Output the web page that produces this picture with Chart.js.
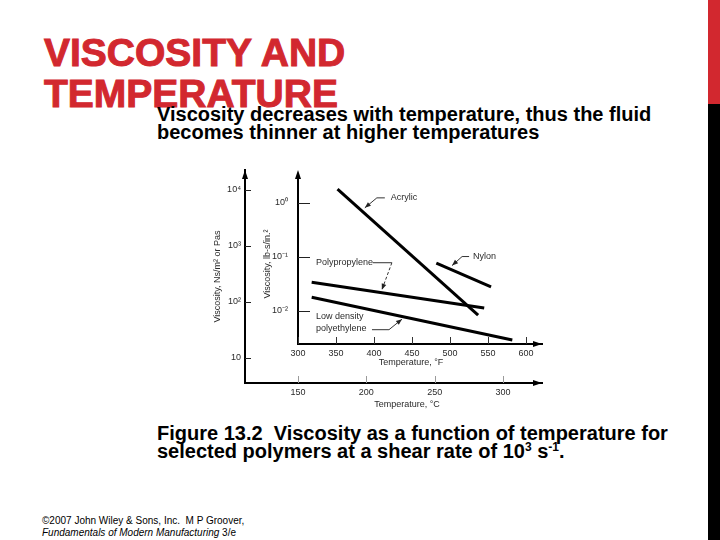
<!DOCTYPE html>
<html>
<head>
<meta charset="utf-8">
<script src="https://cdn.jsdelivr.net/npm/chart.js@4.4.1/dist/chart.umd.min.js"></script>
<style>
html,body{margin:0;padding:0;background:#fff;}
body{width:720px;height:540px;position:relative;overflow:hidden;font-family:"Liberation Sans",Arial,sans-serif;}
#bar-red{position:absolute;left:708px;top:0;width:12px;height:104px;background:#d2282f;}
#bar-black{position:absolute;left:708px;top:104px;width:12px;height:436px;background:#000;}
#title{position:absolute;left:44px;top:32px;margin:0;font-size:39px;line-height:41px;font-weight:bold;color:#d2282f;white-space:nowrap;-webkit-text-stroke:1px #d2282f;}
#subtitle{position:absolute;left:157px;top:105px;margin:0;font-size:20px;line-height:18px;font-weight:bold;color:#000;white-space:nowrap;}
#caption{position:absolute;left:157px;top:424px;margin:0;font-size:20px;line-height:18px;font-weight:bold;color:#000;white-space:pre;}
#caption sup{font-size:12px;line-height:0;vertical-align:7px;}
#footer{position:absolute;left:42px;top:515px;font-size:10px;line-height:12px;color:#000;white-space:pre;}
canvas{position:absolute;}
#outer{left:200px;top:160px;}
#inner{left:255px;top:160px;}
</style>
</head>
<body>
<div id="bar-red"></div>
<div id="bar-black"></div>
<h1 id="title">VISCOSITY AND<br>TEMPERATURE</h1>
<p id="subtitle">Viscosity decreases with temperature, thus the fluid<br>becomes thinner at higher temperatures</p>
<canvas id="outer" width="360" height="260"></canvas>
<canvas id="inner" width="305" height="220"></canvas>
<p id="caption">Figure 13.2  Viscosity as a function of temperature for
selected polymers at a shear rate of 10<sup>3</sup> s<sup>-1</sup>.</p>
<div id="footer">©2007 John Wiley &amp; Sons, Inc.  M P Groover,
<i>Fundamentals of Modern Manufacturing</i> 3/e</div>

<script>
// ---- tick values / labels ----
const tempC_ticks = [150, 200, 250, 300];
const viscPa_ticks = [10, 100, 1000, 10000];
const viscPa_labels = ['10', '10²', '10³', '10⁴'];
const tempF_ticks = [300, 350, 400, 450, 500, 550, 600];
const viscLb_ticks = [0.01, 0.1, 1];
const viscLb_labels = ['10⁻²', '10⁻¹', '10⁰'];

// ---- series (temperature °F, viscosity lb-s/in²) ----
const seriesNames = ['Acrylic', 'Nylon', 'Polypropylene', 'Low density polyethylene'];
const acrylicF = [352, 537];
const acrylicVisc = [1.8, 0.0084];
const nylonF = [482, 554];
const nylonVisc = [0.077, 0.028];
const ppF = [318, 545];
const ppVisc = [0.034, 0.0114];
const ldpeF = [318, 582];
const ldpeVisc = [0.018, 0.0029];

const FONT = '"Liberation Sans", Arial, sans-serif';
const TXT = '#2a2a2a';

function pts(xs, ys) { return xs.map((x, i) => ({x: x, y: ys[i]})); }

const annotations = [
  {lines: ['Acrylic'], ds: 0, t: 0.18, path: [[22, -14], [14, -14], [2, -4]], text: [28, -14], dash: false},
  {lines: ['Nylon'], ds: 1, t: 0.27, path: [[18, -13], [11, -13], [1, -4]], text: [22, -13], dash: false},
  {lines: ['Polypropylene'], ds: 2, t: 0.407, path: [[-9, -30], [10, -30], [0, -3]], text: [-66, -30], dash: true},
  {lines: ['Low density', 'polyethylene'], ds: 3, t: 0.455, path: [[-31, 13], [-14, 13], [-1, 2.5]], text: [-87, 0], dash: false}
];

const decor = {
  id: 'decor',
  afterDraw(chart, args, o) {
    const ctx = chart.ctx, a = chart.chartArea, xs = chart.scales.x, ys = chart.scales.y;
    ctx.save();
    ctx.lineWidth = 1;
    ctx.strokeStyle = o.yTickColor;
    ctx.beginPath();
    ys.ticks.forEach(t => {
      const p = Math.round(ys.getPixelForValue(t.value)) + 0.5;
      ctx.moveTo(a.left, p); ctx.lineTo(a.left + o.yTickLen, p);
    });
    ctx.stroke();
    ctx.strokeStyle = o.xTickColor;
    ctx.beginPath();
    xs.ticks.forEach(t => {
      const p = Math.round(xs.getPixelForValue(t.value)) + 0.5;
      ctx.moveTo(p, a.bottom); ctx.lineTo(p, a.bottom - o.xTickLen);
    });
    ctx.stroke();
    // axis extension and arrowheads
    const tipY = a.top - o.extendTop;
    ctx.strokeStyle = '#000'; ctx.lineWidth = 2;
    if (o.extendTop > 0) {
      ctx.beginPath(); ctx.moveTo(a.left, a.top + 1); ctx.lineTo(a.left, tipY + 4); ctx.stroke();
    }
    ctx.fillStyle = '#000';
    ctx.beginPath(); ctx.moveTo(a.left, tipY); ctx.lineTo(a.left - 3, tipY + 9); ctx.lineTo(a.left + 3, tipY + 9); ctx.closePath(); ctx.fill();
    ctx.beginPath(); ctx.moveTo(a.right, a.bottom); ctx.lineTo(a.right - 9, a.bottom - 3); ctx.lineTo(a.right - 9, a.bottom + 3); ctx.closePath(); ctx.fill();
    // annotations
    (o.annotations || []).forEach(an => {
      const d = chart.data.datasets[an.ds].data;
      const x0 = xs.getPixelForValue(d[0].x), y0 = ys.getPixelForValue(d[0].y);
      const x1 = xs.getPixelForValue(d[1].x), y1 = ys.getPixelForValue(d[1].y);
      const px = x0 + an.t * (x1 - x0), py = y0 + an.t * (y1 - y0);
      const P = an.path.map(p => [px + p[0], py + p[1]]);
      ctx.strokeStyle = '#333'; ctx.lineWidth = 1;
      ctx.beginPath();
      ctx.moveTo(P[0][0], P[0][1]);
      for (let i = 1; i < P.length - 1; i++) ctx.lineTo(P[i][0], P[i][1]);
      ctx.stroke();
      const A = P[P.length - 2], B = P[P.length - 1];
      ctx.beginPath();
      if (an.dash) ctx.setLineDash([3, 2]);
      ctx.moveTo(A[0], A[1]); ctx.lineTo(B[0], B[1]);
      ctx.stroke();
      ctx.setLineDash([]);
      const ang = Math.atan2(B[1] - A[1], B[0] - A[0]);
      const L = 6, W = 2.4;
      ctx.fillStyle = '#222';
      ctx.beginPath();
      ctx.moveTo(B[0], B[1]);
      ctx.lineTo(B[0] - L * Math.cos(ang) + W * Math.sin(ang), B[1] - L * Math.sin(ang) - W * Math.cos(ang));
      ctx.lineTo(B[0] - L * Math.cos(ang) - W * Math.sin(ang), B[1] - L * Math.sin(ang) + W * Math.cos(ang));
      ctx.closePath(); ctx.fill();
      ctx.fillStyle = TXT;
      ctx.font = '9px ' + FONT;
      ctx.textAlign = 'left'; ctx.textBaseline = 'middle';
      an.lines.forEach((ln, i) => ctx.fillText(ln, px + an.text[0], py + an.text[1] + i * 12));
    });
    ctx.restore();
  }
};

const tickFont = {family: FONT, size: 9};
const noGrid = {display: false, drawTicks: false, drawOnChartArea: false};

// ---- outer chart: °C and N·s/m² ----
new Chart(document.getElementById('outer'), {
  type: 'scatter',
  data: {datasets: []},
  options: {
    responsive: false, animation: false, events: [],
    layout: {padding: {top: 10, right: 18, bottom: 0, left: 0}},
    plugins: {
      legend: {display: false}, tooltip: {enabled: false},
      decor: {extendTop: 0, xTickLen: 7, yTickLen: 6, xTickColor: '#9a9a9a', yTickColor: '#222'}
    },
    scales: {
      x: {
        type: 'linear', position: 'bottom', min: 111.22, max: 328.54,
        grid: noGrid, border: {display: true, color: '#000', width: 2},
        ticks: {color: TXT, font: tickFont, padding: 4, maxRotation: 0, autoSkip: false, callback: v => String(v)},
        title: {display: true, text: '\u2002\u2002\u2002\u2002\u2002\u2002Temperature, °C', color: TXT, font: tickFont, padding: 10},
        afterBuildTicks: s => { s.ticks = tempC_ticks.map(v => ({value: v})); },
        afterFit: s => { s.height = 37; }
      },
      y: {
        type: 'logarithmic', position: 'left', min: 3.5775, max: 22758,
        grid: noGrid, border: {display: true, color: '#000', width: 2},
        ticks: {color: TXT, font: tickFont, padding: 4, autoSkip: false, callback: v => viscPa_labels[viscPa_ticks.indexOf(v)]},
        title: {display: true, text: 'Viscosity, Ns/m² or Pas', color: TXT, font: tickFont, padding: 12},
        afterBuildTicks: s => { s.ticks = viscPa_ticks.map(v => ({value: v})); },
        afterFit: s => { s.width = 45; }
      }
    }
  },
  plugins: [decor]
});

// ---- inner chart: °F and lb-s/in² ----
const lineStyle = {showLine: true, pointRadius: 0, borderColor: '#000', backgroundColor: '#000', borderWidth: 3, borderCapStyle: 'butt'};
new Chart(document.getElementById('inner'), {
  type: 'scatter',
  data: {
    datasets: [
      Object.assign({label: seriesNames[0], data: pts(acrylicF, acrylicVisc)}, lineStyle),
      Object.assign({label: seriesNames[1], data: pts(nylonF, nylonVisc)}, lineStyle),
      Object.assign({label: seriesNames[2], data: pts(ppF, ppVisc)}, lineStyle),
      Object.assign({label: seriesNames[3], data: pts(ldpeF, ldpeVisc)}, lineStyle)
    ]
  },
  options: {
    responsive: false, animation: false, events: [],
    layout: {padding: {top: 24, right: 18, bottom: 0, left: 0}},
    plugins: {
      legend: {display: false}, tooltip: {enabled: false},
      decor: {extendTop: 14, xTickLen: 7, yTickLen: 12, xTickColor: '#333', yTickColor: '#222', annotations: annotations}
    },
    scales: {
      x: {
        type: 'linear', position: 'bottom', min: 300, max: 621.05,
        grid: noGrid, border: {display: true, color: '#000', width: 2},
        ticks: {color: TXT, font: tickFont, padding: 4, maxRotation: 0, autoSkip: false, callback: v => String(v)},
        title: {display: true, text: 'Temperature, °F\u2002\u2002\u2002\u2002', color: TXT, font: tickFont, padding: 12},
        afterBuildTicks: s => { s.ticks = tempF_ticks.map(v => ({value: v})); },
        afterFit: s => { s.height = 36; }
      },
      y: {
        type: 'logarithmic', position: 'left', min: 0.002448, max: 2.248,
        grid: noGrid, border: {display: true, color: '#000', width: 2},
        ticks: {color: TXT, font: tickFont, padding: 10, autoSkip: false, callback: v => viscLb_labels[viscLb_ticks.indexOf(v)]},
        title: {display: true, text: 'Viscosity, lb-s/in.²', color: TXT, font: tickFont, padding: 7},
        afterBuildTicks: s => { s.ticks = viscLb_ticks.map(v => ({value: v})); },
        afterFit: s => { s.width = 43; }
      }
    }
  },
  plugins: [decor]
});
</script>
</body>
</html>
